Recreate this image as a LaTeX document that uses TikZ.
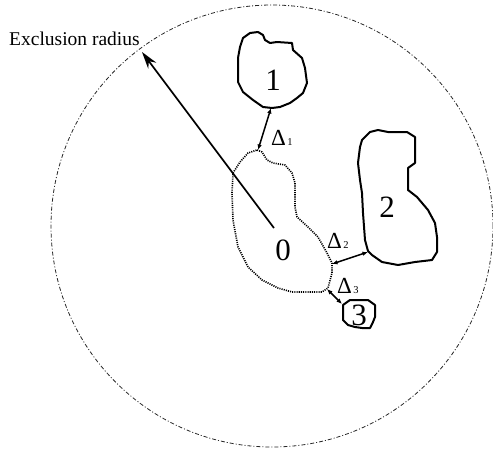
\documentclass[tikz,border=0pt]{standalone}
\usepackage{fontspec}
\setmainfont{Liberation Serif}
\usetikzlibrary{arrows.meta}
\begin{document}
\begin{tikzpicture}[x=1pt,y=-1pt,
  blob/.style={line width=2pt, line join=round, line cap=round},
  dotblob/.style={line width=1.6pt, dash pattern=on 1.1pt off 1.1pt, line join=round},
  excl/.style={dash pattern=on 4pt off 2pt on 1pt off 2pt, line width=0.8pt, black!85},
  radarrow/.style={line width=1.7pt, -{Stealth[length=17pt,width=10pt]}},
  gap/.style={line width=1.5pt, {Latex[length=5.5pt,width=4.5pt]}-{Latex[length=5.5pt,width=4.5pt]}},
  num/.style={inner sep=0pt, font=\fontsize{31}{31}\selectfont},
  dl/.style={inner sep=0pt, anchor=base west},
  txt/.style={inner sep=0pt, anchor=base west, font=\fontsize{19.5}{19.5}\selectfont}]
\useasboundingbox (0,0) rectangle (493,451);
% exclusion circle
\coordinate (c) at (272,226);
\draw[excl] (c) circle[radius=221pt];
% blob 1
\draw[blob] (243,38) -- (250,33) -- (258,32) -- (263,35) -- (265,40) -- (270,43) -- (277,42) -- (292,43) -- (293,50) -- (302,58) -- (305,68) -- (307,83) -- (303,93) -- (297,98) -- (290,103) -- (280,107) -- (272,108) -- (263,107) -- (253,100) -- (243,92) -- (238,82) -- (238,58) -- (240,47) -- cycle;
% blob 2
\draw[blob] (360,147) -- (362,140) -- (370,132) -- (378,130) -- (388,132) -- (407,132) -- (415,137) -- (415,163) -- (408,168) -- (408,190) -- (417,197) -- (428,210) -- (435,223) -- (437,237) -- (437,252) -- (432,260) -- (415,262) -- (398,265) -- (382,262) -- (372,255) -- (368,251) -- (365,240) -- (363,213) -- (362,193) -- (360,180) -- (358,163) -- cycle;
% blob 0 (dotted)
\draw[dotblob] (257,150) -- (262,152) -- (267,160) -- (273,163) -- (285,165) -- (292,173) -- (295,183) -- (295,207) -- (297,217) -- (308,227) -- (318,237) -- (327,253) -- (332,263) -- (332,273) -- (328,288) -- (322,292) -- (292,292) -- (278,288) -- (262,280) -- (248,267) -- (238,247) -- (233,220) -- (232,193) -- (233,173) -- (240,162) -- (248,153) -- cycle;
% blob 3
\draw[blob] (343,305) -- (350,300) -- (368,300) -- (375,305) -- (375,317) -- (373,322) -- (370,328) -- (362,328) -- (355,327) -- (348,325) -- (343,320) -- (343,313) -- cycle;
% touch points
\coordinate (b0top) at (258,150);
\coordinate (b1bot) at (271,108);
\coordinate (b0r) at (332,264);
\coordinate (b2l) at (368,252);
\coordinate (b0b) at (327,289);
\coordinate (b3t) at (342,304);
\coordinate (rtip) at (142,52);
\coordinate (rstart) at (274,228);
% labels
\node[num] (n1) at (273,80) {1};
\node[num] (n2) at (387,207) {2};
\node[num] (n0) at (283,250) {0};
\node[num] (n3) at (359,315) {3};
\node[txt] (ex) at (9,45) {Exclusion radius};
\node[dl] (d1) at (271,145) {\fontsize{23}{23}\selectfont Δ\kern1.5pt\fontsize{10.5}{10.5}\selectfont 1};
\node[dl] (d2) at (327,248) {\fontsize{23}{23}\selectfont Δ\kern1.5pt\fontsize{10.5}{10.5}\selectfont 2};
\node[dl] (d3) at (337,293) {\fontsize{23}{23}\selectfont Δ\kern1.5pt\fontsize{10.5}{10.5}\selectfont 3};
% connectors
\draw[radarrow] (rstart) -- (rtip);
\draw[gap] (b0top) -- (b1bot);
\draw[gap] (b0r) -- (b2l);
\draw[gap] (b0b) -- (b3t);
\end{tikzpicture}
\end{document}
